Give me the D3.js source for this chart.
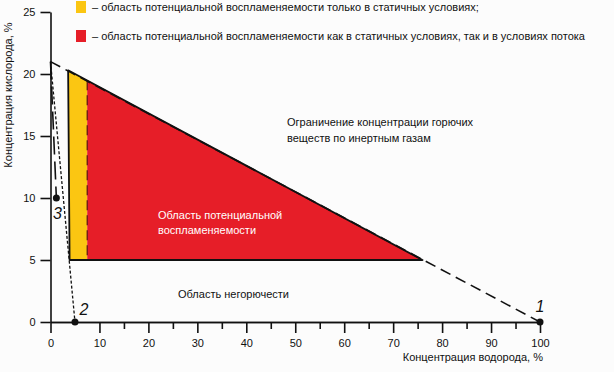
<!DOCTYPE html>
<html>
<head>
<meta charset="utf-8">
<script src="https://cdn.jsdelivr.net/npm/d3@7"></script>
<style>
  body { margin: 0; background: #fcfcfc; }
  svg { display: block; font-family: "Liberation Sans", Arial, sans-serif; }
  .axis path, .axis line { stroke: #111; stroke-width: 1.6; }
  .axis text { font-size: 11px; fill: #111; font-family: "Liberation Sans", Arial, sans-serif; }
</style>
</head>
<body>
<div class="chart"></div>
<script>
// ticks
var xTicks = [0, 10, 20, 30, 40, 50, 60, 70, 80, 90, 100];
var xMinor = [15, 25, 35, 45, 55, 65, 75, 85, 95];
var yTicks = [0, 5, 10, 15, 20, 25];

// zones (H2 %, O2 %)
var yellowX = [3.6, 7.5, 7.5, 3.9];
var yellowY = [20.3, 19.5, 5, 5];
var redX = [7.5, 76, 7.5];
var redY = [19.5, 5, 5];
var zoneX = [3.6, 76, 3.9];
var zoneY = [20.3, 5, 5];

// limit lines
var limitX = [0, 100], limitY = [21, 0];
var line2X = [0, 5], line2Y = [21, 0];
var line3X = [0, 1.2], line3Y = [21, 10];

// points
var ptNames = ["1", "2", "3"];
var ptX = [100, 5, 1.2];
var ptY = [0, 0, 10];

var legendText = [
  "– область потенциальной воспламеняемости только в статичных условиях;",
  "– область потенциальной воспламеняемости как в статичных условиях, так и в условиях потока"
];
var legendColors = ["#fbc612", "#e61e28"];

var width = 614, height = 372;

var x = d3.scaleLinear().domain([0, 100]).range([50.5, 540]);
var y = d3.scaleLinear().domain([0, 25]).range([322, 12]);

var svg = d3.select(".chart").append("svg")
  .attr("width", width)
  .attr("height", height);

function pts(xs, ys) {
  return xs.map(function(d, i) { return [x(d), y(ys[i])]; });
}
var line = d3.line();

// yellow and red areas
svg.append("path")
  .attr("d", line(pts(yellowX, yellowY)) + "Z")
  .style("fill", legendColors[0]);
svg.append("path")
  .attr("d", line(pts(redX, redY)) + "Z")
  .style("fill", legendColors[1]);

// split line between zones
svg.append("line")
  .attr("x1", x(redX[0])).attr("y1", y(redY[0]))
  .attr("x2", x(redX[2])).attr("y2", y(redY[2]))
  .style("stroke", "#5a1010")
  .style("stroke-width", 1.2)
  .style("stroke-dasharray", "10,5");

// zone border
svg.append("path")
  .attr("d", line(pts(zoneX, zoneY)) + "Z")
  .style("fill", "none")
  .style("stroke", "#111")
  .style("stroke-width", 1.8)
  .style("stroke-linejoin", "round");

// dashed limit line
svg.append("path")
  .attr("d", line(pts(limitX, limitY)))
  .style("fill", "none")
  .style("stroke", "#111")
  .style("stroke-width", 1.6)
  .style("stroke-dasharray", "11,6");

svg.append("path")
  .attr("d", line(pts(line2X, line2Y)))
  .style("fill", "none")
  .style("stroke", "#111")
  .style("stroke-width", 1.3)
  .style("stroke-dasharray", "3,2");

svg.append("path")
  .attr("d", line(pts(line3X, line3Y)))
  .style("fill", "none")
  .style("stroke", "#111")
  .style("stroke-width", 1.6)
  .style("stroke-dasharray", "18,7");

// axes
svg.append("g")
  .attr("class", "axis")
  .attr("transform", "translate(0," + y(0) + ")")
  .call(d3.axisBottom(x).tickValues(xMinor).tickSize(7).tickSizeOuter(0).tickFormat(""));
svg.append("g")
  .attr("class", "axis")
  .attr("transform", "translate(0," + y(0) + ")")
  .call(d3.axisBottom(x).tickValues(xTicks).tickSize(11).tickSizeOuter(0).tickPadding(6));

svg.append("g")
  .attr("class", "axis")
  .attr("transform", "translate(" + x(0) + ",0)")
  .call(d3.axisLeft(y).tickValues(yTicks).tickSize(10).tickSizeOuter(0).tickPadding(5));

// points
svg.selectAll("circle.pt")
  .data(ptNames)
  .enter().append("circle")
  .attr("class", "pt")
  .attr("cx", function(d, i) { return x(ptX[i]); })
  .attr("cy", function(d, i) { return y(ptY[i]); })
  .attr("r", 3.5)
  .style("fill", "#111");

var labOff = [[0, -10], [9, -7], [1, 21]];
svg.selectAll("text.pt")
  .data(ptNames)
  .enter().append("text")
  .attr("class", "pt")
  .attr("x", function(d, i) { return x(ptX[i]) + labOff[i][0]; })
  .attr("y", function(d, i) { return y(ptY[i]) + labOff[i][1]; })
  .attr("text-anchor", "middle")
  .style("font-size", "16px")
  .style("font-style", "italic")
  .style("fill", "#111")
  .text(function(d) { return d; });

// legend
var leg = svg.selectAll("g.leg")
  .data(legendText)
  .enter().append("g")
  .attr("class", "leg")
  .attr("transform", function(d, i) { return "translate(76," + (1 + i * 29) + ")"; });
leg.append("rect")
  .attr("width", 10).attr("height", 12)
  .style("fill", function(d, i) { return legendColors[i]; });
leg.append("text")
  .attr("x", 16).attr("y", 9.5)
  .style("font-size", "11px")
  .style("fill", "#111")
  .text(function(d) { return d; });

// annotations
function label(lines, px, py, color, lh) {
  var t = svg.append("text")
    .attr("x", px).attr("y", py)
    .style("font-size", "11px")
    .style("fill", color);
  lines.forEach(function(s, i) {
    t.append("tspan").attr("x", px).attr("dy", i ? lh : 0).text(s);
  });
}
label(["Ограничение концентрации горючих", "веществ по инертным газам"], 287, 126, "#111", 15.5);
label(["Область потенциальной", "воспламеняемости"], 158, 219, "#fff", 14.5);
label(["Область негорючести"], 178, 298, "#111", 0);

// axis titles
svg.append("text")
  .attr("x", 543).attr("y", 361)
  .attr("text-anchor", "end")
  .style("font-size", "11px")
  .style("fill", "#111")
  .text("Концентрация водорода, %");

svg.append("text")
  .attr("transform", "translate(12,95) rotate(-90)")
  .attr("text-anchor", "middle")
  .style("font-size", "11px")
  .style("fill", "#111")
  .text("Концентрация кислорода, %");
</script>
</body>
</html>
